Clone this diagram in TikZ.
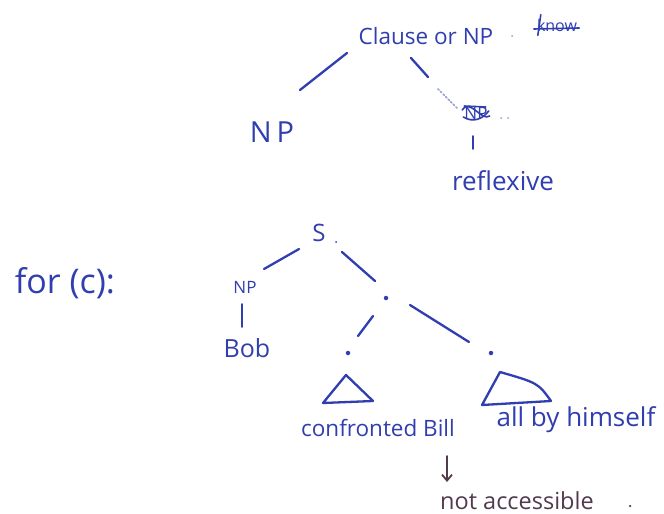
\documentclass[tikz,border=0pt]{standalone}
\usepackage{fontspec}
\setmainfont{Open Sans}
\usetikzlibrary{arrows.meta}
\definecolor{ink}{RGB}{48,62,176}
\definecolor{ink2}{RGB}{82,58,78}
\definecolor{inklight}{RGB}{150,160,210}
\tikzset{
  hw/.style={text=ink, inner sep=0pt, anchor=center},
  stroke/.style={draw=ink, line width=2.3pt, line cap=round, line join=round},
  thin stroke/.style={draw=ink, line width=1.6pt, line cap=round, line join=round},
  dotnode/.style={circle, fill=ink, inner sep=0pt, minimum size=4.5pt},
}
\begin{document}
\begin{tikzpicture}[x=1pt,y=-1pt]
\useasboundingbox (0,0) rectangle (664,514);
\fill[white] (0,0) rectangle (664,514);

% ---------- upper tree ----------
\node[hw, font=\fontsize{22.5}{22.5}\selectfont] (clause) at (426,36) {Clause or NP};
\node[dotnode, minimum size=2pt, fill=inklight] (cdot) at (512,36) {};
\node[hw, font=\fontsize{16}{16}\selectfont] (knew) at (557,25) {know};
\draw[thin stroke] ([shift={(-3,4)}]knew.west) -- ([shift={(2,3)}]knew.east);
\draw[thin stroke] ([shift={(4,-4)}]knew.north west) -- ([shift={(1,4)}]knew.south west);

\node[hw, font=\fontsize{29}{29}\selectfont] (np1) at (272,132) {N\,P};
\node[hw, font=\fontsize{17}{17}\selectfont] (xnp) at (476,113) {NP};
\draw[thin stroke] ([xshift=-2pt,yshift=3pt]xnp.west) .. controls +(8,-12) and +(-8,6) .. ([xshift=2pt,yshift=-3pt]xnp.east);
\draw[thin stroke] ([xshift=-1pt,yshift=-4pt]xnp.west) .. controls +(10,6) and +(-6,8) .. ([xshift=1pt,yshift=2pt]xnp.east);
\draw[thin stroke] ([xshift=0pt,yshift=7pt]xnp.west) -- ([xshift=-2pt,yshift=6pt]xnp.east);
\node[dotnode, minimum size=2pt, fill=inklight] (xd1) at (501,118) {};
\node[dotnode, minimum size=2pt, fill=inklight] (xd2) at (508,118) {};
\node[hw, font=\fontsize{26}{26}\selectfont] (refl) at (503,181) {reflexive};

\coordinate (l1a) at (347,53);
\coordinate (l1b) at (300,90);
\coordinate (l2a) at (411,58);
\coordinate (l2b) at (428,77);
\coordinate (l3a) at (438,89);
\coordinate (l3b) at (457,108);
\coordinate (l4a) at (473,136);
\coordinate (l4b) at (473,149);
\draw[stroke] (l1a) -- (l1b);
\draw[stroke] (l2a) -- (l2b);
\draw[draw=inklight, line width=1.6pt, dotted, line cap=round] (l3a) -- (l3b);
\draw[thin stroke] (l4a) -- (l4b);

% ---------- lower tree ----------
\node[hw, font=\fontsize{34}{34}\selectfont] (forc) at (65,283) {for (c):};

\node[hw, font=\fontsize{24}{24}\selectfont] (S) at (319,233) {S};
\node[dotnode, minimum size=2pt] (Sdot) at (336,242) {};
\node[hw, font=\fontsize{17}{17}\selectfont] (np2) at (245,287) {NP};
\node[hw, font=\fontsize{25}{25}\selectfont] (bob) at (247,348) {Bob};

\node[dotnode] (d1) at (386,298) {};
\node[dotnode] (d2) at (348,353) {};
\node[dotnode] (d3) at (491,353) {};

\coordinate (s1a) at (299,249);
\coordinate (s1b) at (264,269);
\coordinate (s2a) at (342,252);
\coordinate (s2b) at (375,281);
\coordinate (s3a) at (373,316);
\coordinate (s3b) at (358,336);
\coordinate (s4a) at (410,305);
\coordinate (s4b) at (469,342);
\coordinate (s5a) at (242,304);
\coordinate (s5b) at (242,327);
\draw[stroke] (s1a) -- (s1b);
\draw[stroke] (s2a) -- (s2b);
\draw[stroke] (s3a) -- (s3b);
\draw[stroke] (s4a) -- (s4b);
\draw[thin stroke] (s5a) -- (s5b);

% triangles
\coordinate (t1a) at (346,375);
\coordinate (t1l) at (323,403);
\coordinate (t1r) at (373,401);
\coordinate (t2a) at (500,372);
\coordinate (t2l) at (482,405);
\coordinate (t2r) at (551,401);
\draw[stroke] (t1a) -- (t1l) -- (t1r) -- cycle;
\draw[stroke] (t2a) -- (t2l) -- (t2r) .. controls (538,383) .. (t2a);

\node[hw, font=\fontsize{22.5}{22.5}\selectfont] (conf) at (378,428) {confronted Bill};
\node[hw, font=\fontsize{26}{26}\selectfont] (himself) at (576,420) {all by himself};

\node[hw, text=ink2, font=\fontsize{23.5}{23.5}\selectfont] (notacc) at (517,501) {not accessible};
\node[dotnode, minimum size=2.5pt, fill=ink2] (nadot) at (630,506) {};
\coordinate (ar1) at (447,456);
\coordinate (ar2) at (447,482);
\draw[draw=ink2, line width=1.8pt, line cap=round, -{Straight Barb[length=6pt,width=10pt]}] (ar1) -- (ar2);
\end{tikzpicture}
\end{document}
